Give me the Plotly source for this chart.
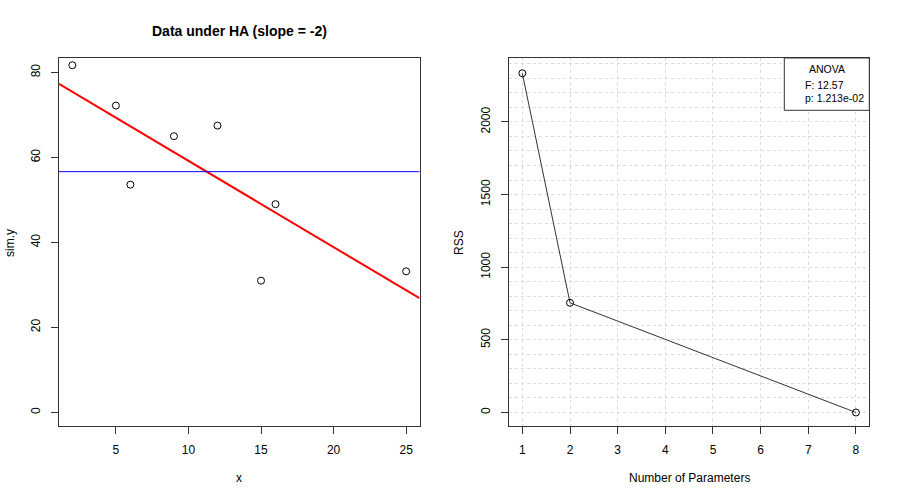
import numpy as np
import plotly.graph_objects as go

# dati simulati sotto HA
x = [2, 5, 6, 9, 12, 15, 16, 25]
sim_y = [81.7, 72.2, 53.6, 65.0, 67.5, 31.0, 49.0, 33.2]

# RSS per numero di parametri
n_params = [1, 2, 8]
rss = [2335, 755, 0]

anova_f = "12.57"
anova_p = "1.213e-02"

FONT = "Liberation Sans, Arial, Helvetica, sans-serif"
W, H = 900, 500

slope, intercept = np.polyfit(x, sim_y, 1)
x_range = [1.08, 25.92]
y_range = [-3.2, 83.4]

fig = go.Figure()

# --- pannello sinistro: dati + retta stimata + media ---
fig.add_trace(go.Scatter(
    x=x, y=sim_y, mode="markers",
    marker=dict(symbol="circle-open", size=7, color="black", line=dict(width=1)),
    xaxis="x", yaxis="y", showlegend=False,
))
fig.add_trace(go.Scatter(
    x=x_range, y=[intercept + slope * v for v in x_range], mode="lines",
    line=dict(color="#ff0000", width=2), xaxis="x", yaxis="y", showlegend=False,
))
fig.add_shape(type="line", xref="x domain", yref="y", x0=0, x1=1,
              y0=float(np.mean(sim_y)), y1=float(np.mean(sim_y)),
              line=dict(color="#0000ff", width=1))

# --- pannello destro: RSS ---
fig.add_trace(go.Scatter(
    x=n_params, y=rss, mode="lines+markers",
    line=dict(color="#333333", width=1),
    marker=dict(symbol="circle-open", size=7, color="black", line=dict(width=1)),
    xaxis="x2", yaxis="y2", showlegend=False,
))

axis_common = dict(
    showline=True, mirror=True, linecolor="#333333", linewidth=1,
    ticks="outside", ticklen=7, tickcolor="#333333",
    tickfont=dict(family=FONT, size=12, color="black"),
    zeroline=False, showgrid=False, ticklabelstandoff=6,
)
grid = dict(showgrid=True, gridcolor="#dcdcdc", griddash="dot", gridwidth=1)

ydom = [(H - 426) / H, (H - 58) / H]

fig.update_layout(
    width=W, height=H, autosize=False,
    margin=dict(l=0, r=0, t=0, b=0),
    paper_bgcolor="white", plot_bgcolor="white",
    xaxis=dict(domain=[59 / W, 419.5 / W], range=x_range,
               tickvals=[5, 10, 15, 20, 25], **axis_common),
    yaxis=dict(domain=ydom, range=y_range, tickvals=[0, 20, 40, 60, 80],
               tickangle=-90, **axis_common),
    xaxis2=dict(domain=[509 / W, 869.3 / W], range=[0.72, 8.28], anchor="y2",
                tickvals=list(range(1, 9)), **{**axis_common, **grid}),
    yaxis2=dict(domain=ydom, range=[-93, 2440], anchor="x2",
                tickvals=[0, 500, 1000, 1500, 2000], tickangle=-90,
                **{**axis_common, **grid},
                minor=dict(dtick=100, tick0=0, showgrid=True, gridcolor="#dcdcdc",
                           griddash="dot", gridwidth=1, ticks="")),
)

# box ANOVA
fig.add_shape(type="rect", xref="paper", yref="paper",
              x0=784.3 / W, x1=869.3 / W, y0=(H - 110.3) / H, y1=(H - 58) / H,
              line=dict(color="#333333", width=1), fillcolor="white", layer="above")

def label(text, px, py, size=12, bold=False, angle=0, xanchor="center"):
    fig.add_annotation(
        text=f"<b>{text}</b>" if bold else text,
        xref="paper", yref="paper", x=px / W, y=(H - py) / H,
        xanchor=xanchor, yanchor="middle", showarrow=False, textangle=angle,
        font=dict(family=FONT, size=size, color="black"),
    )

label("ANOVA", 826.7, 68.5, size=10.5)
label(f"F: {anova_f}", 803, 85, size=10.5, xanchor="left")
label(f"p: {anova_p}", 803, 98.5, size=10.5, xanchor="left")

label("Data under HA (slope = -2)", 239, 31, size=14, bold=True)
label("x", 239, 478)
label("sim.y", 10, 243, angle=-90)
label("Number of Parameters", 689, 478)
label("RSS", 459, 243, angle=-90)

# la pagina HTML ha un margine di 8px di default: lo togliamo
fig.write_html("out.html", config={"displayModeBar": False},
               post_script="document.body.style.margin='0';")
